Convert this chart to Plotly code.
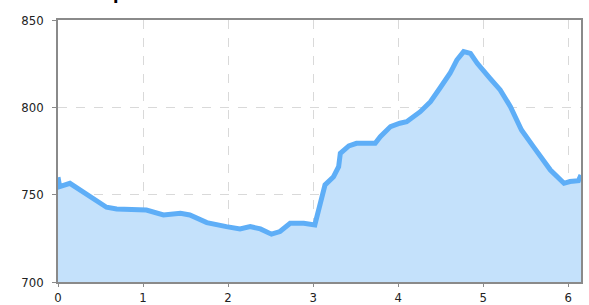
import plotly.graph_objects as go

distance_km = [0.00, 0.02, 0.14, 0.26, 0.42, 0.57, 0.69, 0.89, 1.04, 1.24, 1.44, 1.55, 1.75, 1.98,
               2.14, 2.26, 2.38, 2.51, 2.61, 2.73, 2.89, 3.02, 3.08, 3.14, 3.24, 3.30, 3.32, 3.42,
               3.51, 3.73, 3.79, 3.91, 4.02, 4.10, 4.26, 4.38, 4.49, 4.61, 4.69, 4.77, 4.85, 4.93,
               5.08, 5.20, 5.32, 5.45, 5.59, 5.79, 5.95, 6.02, 6.12, 6.15]
altitude_m = [760, 754.6, 756.5, 752.7, 748, 742.8, 741.8, 741.2, 741.2, 738.4, 739.4, 738.4, 734, 731.7,
              730.4, 731.7, 730.4, 727.4, 728.9, 733.6, 733.6, 732.7, 745, 755.6, 760.3, 766, 773.7, 777.9,
              779.4, 779.4, 783.2, 789, 790.9, 791.8, 797.5, 803.2, 810.9, 819.5, 827.1, 831.9, 830.9, 825.2,
              816.6, 810, 800.4, 787, 777.5, 764.1, 756.5, 757.5, 758, 761.3]
x_ticks = [0, 1, 2, 3, 4, 5, 6]
y_ticks = [700, 750, 800, 850]
title_text = "Altitude profile"

fig = go.Figure()
fig.add_trace(go.Scatter(
    x=distance_km, y=altitude_m, mode="lines",
    line=dict(color="#5eaef7", width=5, shape="linear"),
    fill="tozeroy", fillcolor="#c4e1fb",
    hoverinfo="x+y",
))

axis_common = dict(
    showline=True, linecolor="#8a8a8a", linewidth=1.5, mirror=True,
    showgrid=True, gridcolor="#d9d9d9", griddash="dash", gridwidth=1,
    ticks="outside", tickcolor="#8a8a8a",
    tickfont=dict(family="DejaVu Sans Condensed, DejaVu Sans", size=13, color="#222222"),
    zeroline=False, automargin=False,
)
fig.update_xaxes(range=[0, 6.15], tickvals=x_ticks, ticklen=3, ticklabelstandoff=0, **axis_common)
fig.update_yaxes(range=[700, 850], tickvals=y_ticks, ticklen=4, ticklabelstandoff=6, **axis_common)

fig.add_annotation(
    text="<b>" + title_text + "</b>", xref="paper", yref="paper",
    x=-0.048, y=1.053, xanchor="left", yanchor="bottom", showarrow=False,
    font=dict(family="DejaVu Sans", size=16, color="#000000"),
)

fig.update_layout(
    width=589, height=305,
    margin=dict(l=58, r=8, t=20, b=23, autoexpand=False),
    paper_bgcolor="white", plot_bgcolor="white",
    showlegend=False,
)
fig.write_html(
    "out.html",
    config={"displayModeBar": False},
    post_script="document.body.style.margin='0';document.body.style.overflow='hidden';",
)
